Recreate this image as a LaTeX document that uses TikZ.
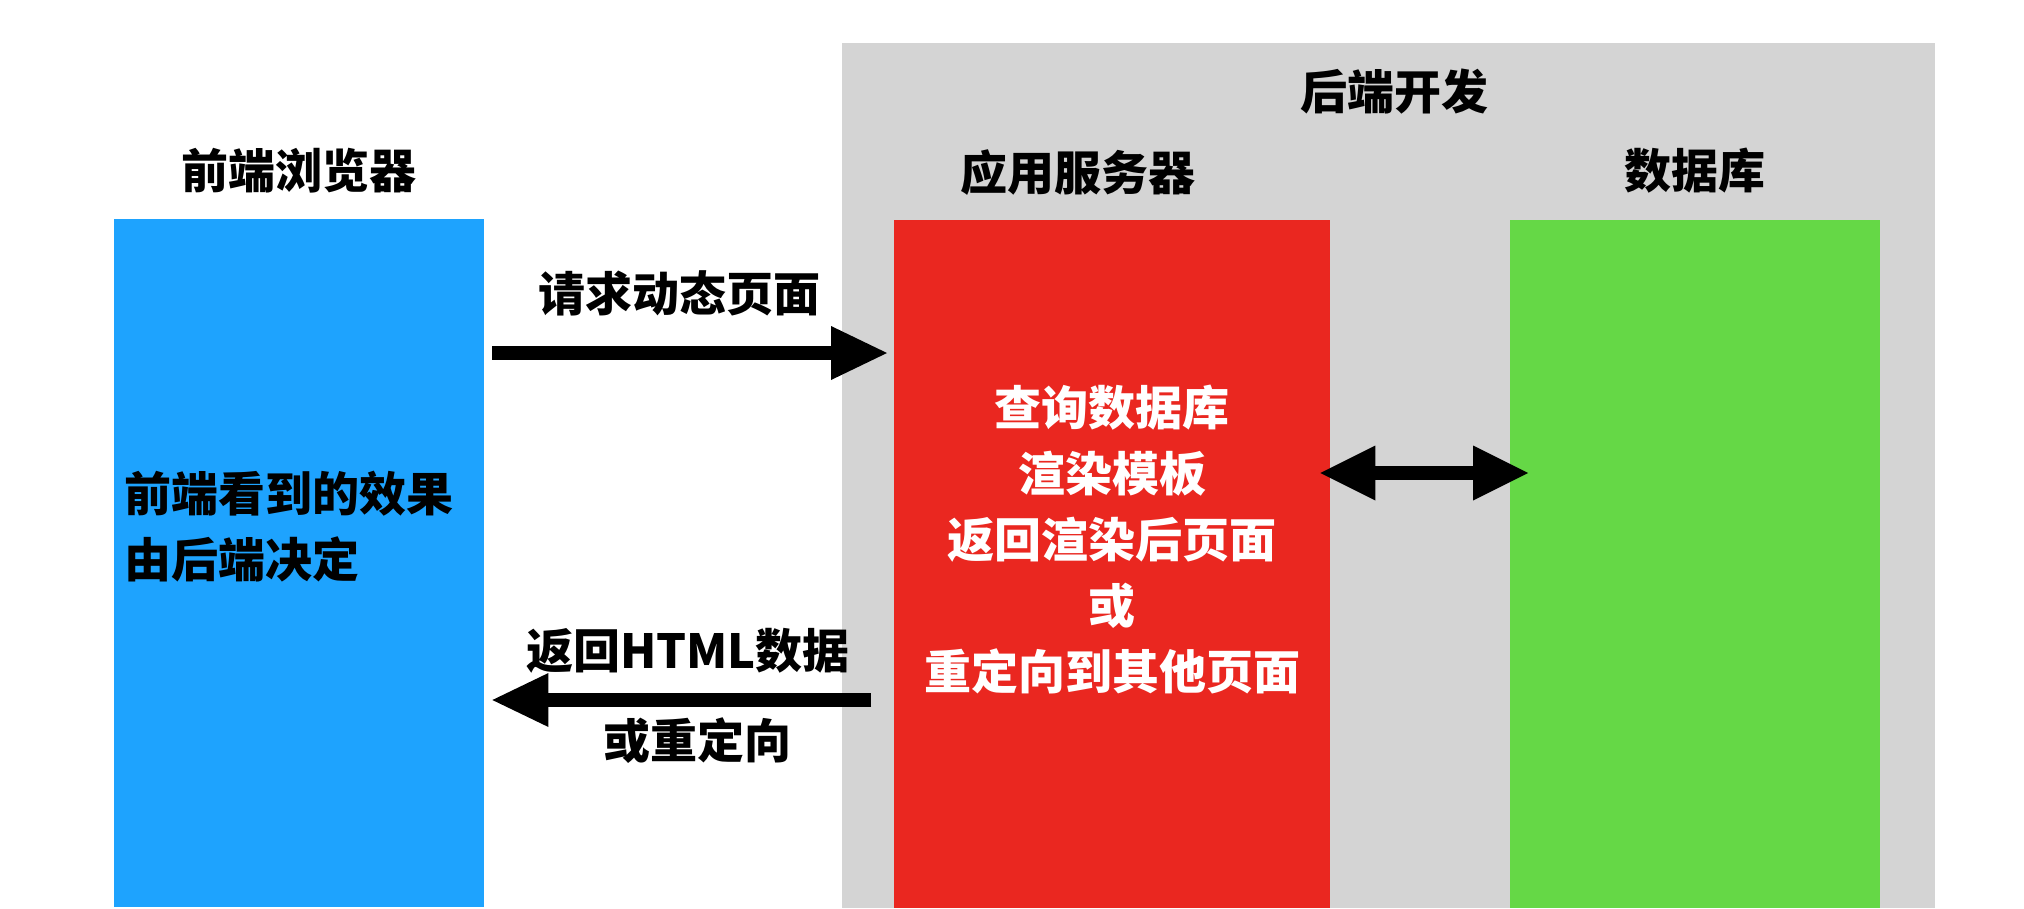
\documentclass[tikz,border=0pt]{standalone}
\usepackage{fontspec}
\setmainfont{Noto Sans CJK SC}
\usetikzlibrary{arrows.meta,positioning}

\definecolor{browserblue}{HTML}{1EA3FE}
\definecolor{serverred}{HTML}{EA2720}
\definecolor{dbgreen}{HTML}{65D846}
\definecolor{backgray}{HTML}{D4D4D4}

\begin{document}
\begin{tikzpicture}[x=1pt, y=-1pt,
  column/.style={anchor=north west, inner sep=0pt, minimum height=688pt},
  title/.style={inner sep=0pt, font=\fontsize{47}{66}\selectfont\bfseries},
  bigarrow/.style={line width=14pt, -{Triangle[length=56pt, width=54pt, line width=0pt]}},
  botharrow/.style={line width=14pt, {Triangle[length=55pt, width=55pt, line width=0pt]}-{Triangle[length=55pt, width=55pt, line width=0pt]}}]
  \useasboundingbox[fill=white] (0,0) rectangle (2024,908);

  % backend
  \node[column, fill=backgray, minimum width=1093pt, minimum height=865pt] (backend) at (842,43) {};
  \node[title] (backend label) at (1394,92) {后端开发};

  \node[column, fill=browserblue, minimum width=370pt] (browser) at (114,219) {};
  \node[column, fill=serverred, minimum width=436pt] (server) at (894,220) {};
  \node[column, fill=dbgreen, minimum width=370pt] (db) at (1510,220) {};

  \node[title, above=26pt of browser] (browser label) {前端浏览器};
  \node[title] (server label) at (1078,173) {应用服务器};
  \node[title, above=27pt of db] (db label) {数据库};

  \node[title, anchor=west, align=left] (browser text) at (124,527) {前端看到的效果\\由后端决定};
  \node[title, text=white, align=center] (server text) at (1112,540)
    {查询数据库\\渲染模板\\返回渲染后页面\\或\\重定向到其他页面};

  % request / response
  \draw[bigarrow, shorten <=8pt, shorten >=7pt] (browser.east |- 0,353) -- (server.west |- 0,353);
  \node[title] (request) at (679,293) {请求动态页面};

  \draw[bigarrow, shorten <=23pt, shorten >=8pt] (server.west |- 0,700) -- (browser.east |- 0,700);
  \node[title] (response) at (688,651) {返回HTML数据};
  \node[title] (redirect) at (697,741) {或重定向};

  % server <-> db
  \draw[botharrow, shorten <=-10pt, shorten >=-18pt] (server.east |- 0,473) -- (db.west |- 0,473);
\end{tikzpicture}
\end{document}
